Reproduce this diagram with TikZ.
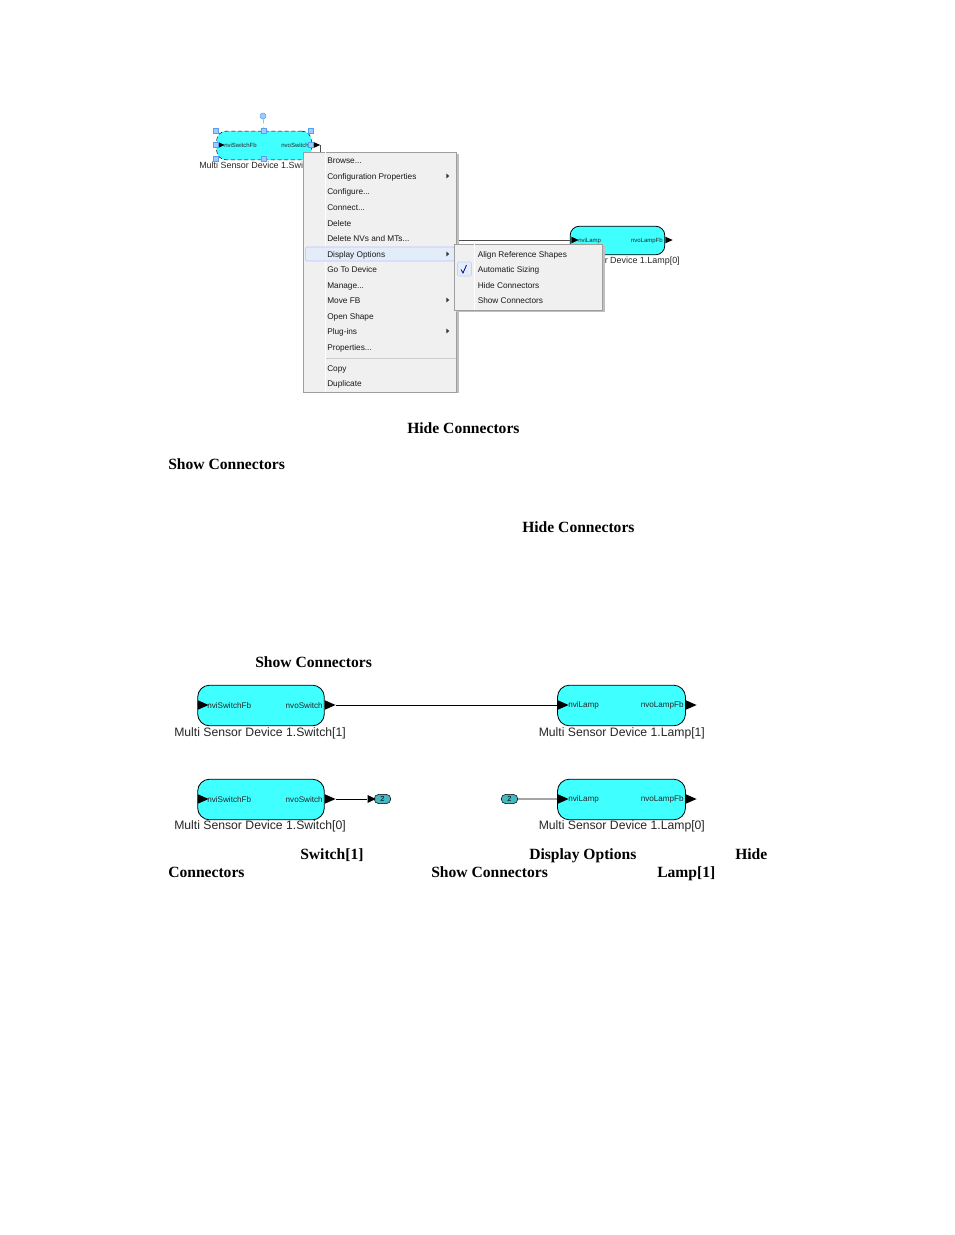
\documentclass[tikz,border=0pt]{standalone}
\usepackage{fontspec}
\setmainfont{Liberation Serif}
\newfontfamily\uifont{Liberation Sans}
\usepackage{xcolor}
\usetikzlibrary{positioning}
\usetikzlibrary{shapes.geometric, shapes.misc}
\definecolor{blockcyan}{rgb}{0.25, 1.0, 1.0}
\definecolor{refteal}{rgb}{0.27, 0.72, 0.76}
\definecolor{menugray}{rgb}{0.94, 0.94, 0.94}
\definecolor{menuedge}{rgb}{0.62, 0.62, 0.62}
\definecolor{hoverblue}{rgb}{0.89, 0.93, 0.98}
\definecolor{handleblue}{rgb}{0.62, 0.80, 1.0}
\definecolor{handleedge}{rgb}{0.35, 0.62, 0.95}
\tikzstyle{block} = [draw=black, fill=blockcyan, line width=0.6pt, rounded corners=9pt, inner sep=0pt]
\tikzstyle{topblock} = [block, rounded corners=7pt]
\tikzstyle{port} = [isosceles triangle, isosceles triangle stretches, fill=black, inner sep=0pt, minimum height=8pt, minimum width=7pt]
\tikzstyle{smallport} = [port, minimum height=5.5pt, minimum width=5pt]
\tikzstyle{nvtext} = [font=\uifont\fontsize{6.1}{8}\selectfont, inner sep=0pt, text=black!85]
\tikzstyle{smalltext} = [font=\uifont\fontsize{4.5}{6}\selectfont, inner sep=0pt, text=black!85]
\tikzstyle{devlabel} = [font=\uifont\fontsize{9.15}{11}\selectfont, inner sep=0pt, text=black!85]
\tikzstyle{toplabel} = [font=\uifont\fontsize{6.7}{8}\selectfont, inner sep=0pt, text=black!85]
\tikzstyle{item} = [font=\uifont\fontsize{6.2}{7}\selectfont, inner sep=0pt, anchor=base west, text=black!90]
\tikzstyle{more} = [isosceles triangle, isosceles triangle stretches, fill=black!80, inner sep=0pt, minimum height=2.2pt, minimum width=3.6pt]
\tikzstyle{bold} = [font=\bfseries\fontsize{11.7}{14}\selectfont, inner sep=0pt, anchor=base west]
\tikzstyle{refnode} = [rounded rectangle, draw=black, fill=refteal, inner sep=0pt, minimum width=12.5pt, minimum height=7pt, font=\uifont\fontsize{5.5}{6}\selectfont]
\tikzstyle{handle} = [rectangle, draw=handleedge, fill=handleblue, inner sep=0pt, minimum size=3.6pt]
\tikzstyle{wire} = [line width=0.7pt]
\begin{document}
\begin{tikzpicture}[x=0.75pt,y=-0.75pt]
\useasboundingbox (0,0) rectangle (954,1235);
% top block
\node (topsw) at (264,145.5) [topblock, minimum width=71pt, minimum height=21.5pt, line width=0.4pt, densely dashed] {};
\node (topswin) at (219.5,145) [smallport] {};
\node (topswout) at (315,145) [smallport] {};
\node (topswa) at (224,145.5) [smalltext, anchor=west] {nviSwitchFb};
\node (topswb) at (309,145.5) [smalltext, anchor=east] {nvoSwitch};
\node (topswl) at (199,166.3) [toplabel, anchor=west] {Multi Sensor Device 1.Switch[0]};
\node (h1) at (216,131) [handle] {};
\node (h2) at (264,131) [handle] {};
\node (h3) at (311,131) [handle] {};
\node (h4) at (216,145) [handle] {};
\node (h5) at (311,145) [handle] {};
\node (h6) at (216,159) [handle] {};
\node (h7) at (264,159) [handle] {};
\node (rot) at (263,116) [circle, draw=handleedge, fill=handleblue, inner sep=0pt, minimum size=4.5pt] {};
\draw[dashed, handleedge] (rot)--(h2);
% top lamp block
\node (toplp) at (617.5,240.5) [topblock, minimum width=71pt, minimum height=21.5pt] {};
\node (toplpin) at (573.5,240) [smallport] {};
\node (toplpout) at (667.5,240) [smallport] {};
\node (toplpa) at (578,240.5) [smalltext, anchor=west] {nviLamp};
\node (toplpb) at (663,240.5) [smalltext, anchor=east] {nvoLampFb};
\node (toplpl) at (680,261) [toplabel, anchor=east] {Multi Sensor Device 1.Lamp[0]};
\coordinate (bend1) at (320,145);
\coordinate (bend2) at (320,240);
\draw[black!70] (topswout.apex)--(bend1)--(bend2)--(toplpin.west);
\coordinate (greena) at (440,310.5);
\coordinate (greenb) at (506,310.5);
\draw[green!60!black, thick] (greena)--(greenb);
% context menu
\fill[black!25] (305,154) rectangle (459,393);
\node (menu) at (380,272) [draw=menuedge, fill=menugray, minimum width=115pt, minimum height=180pt, inner sep=0pt] {};
\coordinate (gutt) at (325,152);
\coordinate (guttb) at (325,392);
\draw[white] (gutt)--(guttb);
\node (hover) at (380,254) [draw=blue!25, fill=hoverblue, rounded corners=1pt, minimum width=112pt, minimum height=10.5pt, inner sep=0pt] {};
\coordinate (sepa) at (326,358);
\coordinate (sepb) at (456,358);
\draw[black!20] (sepa)--(sepb);
\node (m1) at (327,163.5) [item] {Browse...};
\node (m2) at (327,179) [item] {Configuration Properties};
\node (m3) at (327,194.5) [item] {Configure...};
\node (m4) at (327,210) [item] {Connect...};
\node (m5) at (327,226) [item] {Delete};
\node (m6) at (327,241) [item] {Delete NVs and MTs...};
\node (m7) at (327,257) [item] {Display Options};
\node (m8) at (327,272) [item] {Go To Device};
\node (m9) at (327,288) [item] {Manage...};
\node (m10) at (327,303) [item] {Move FB};
\node (m11) at (327,319) [item] {Open Shape};
\node (m12) at (327,334) [item] {Plug-ins};
\node (m13) at (327,350) [item] {Properties...};
\node (m14) at (327,371) [item] {Copy};
\node (m15) at (327,386) [item] {Duplicate};
\node (a1) at (447.5,176) [more] {};
\node (a2) at (447.5,254) [more] {};
\node (a3) at (447.5,300) [more] {};
\node (a4) at (447.5,331) [more] {};
% submenu
\fill[black!25] (456,246) rectangle (605,312);
\node (sub) at (528.5,277) [draw=menuedge, fill=menugray, minimum width=111pt, minimum height=49.5pt, inner sep=0pt] {};
\coordinate (subg) at (474,244);
\coordinate (subgb) at (474,310);
\draw[white] (subg)--(subgb);
\node (chk) at (464.5,269) [draw=blue!20, fill=hoverblue, rounded corners=1pt, minimum size=10.5pt, inner sep=0pt] {};
\coordinate (cka) at (461,269.5);
\coordinate (ckb) at (463,273);
\coordinate (ckc) at (466.5,265);
\draw[blue!60!black, semithick] (cka)--(ckb)--(ckc);
\node (s1) at (477.5,257) [item] {Align Reference Shapes};
\node (s2) at (477.5,272) [item] {Automatic Sizing};
\node (s3) at (477.5,288) [item] {Hide Connectors};
\node (s4) at (477.5,303) [item] {Show Connectors};
% text lines
\node (t1) at (407,433) [bold] {Hide Connectors};
\node (t2) at (168,469) [bold] {Show Connectors};
\node (t3) at (522,532) [bold] {Hide Connectors};
\node (t4) at (255,667) [bold] {Show Connectors};
% lower blocks
\node (sw1) at (261,705.5) [block, minimum width=95pt, minimum height=30.5pt] {};
\node (lp1) at (621.5,705.5) [block, minimum width=96pt, minimum height=30.5pt] {};
\node (sw0) at (261,799.5) [block, minimum width=95pt, minimum height=30.5pt] {};
\node (lp0) at (621.5,799.5) [block, minimum width=96pt, minimum height=30.5pt] {};
\node (sw1in) at (201,705) [port] {};
\node (sw1out) at (328,705) [port] {};
\node (lp1in) at (561,705) [port] {};
\node (lp1out) at (689,705) [port] {};
\node (sw0in) at (201,799) [port] {};
\node (sw0out) at (328,799) [port] {};
\node (lp0in) at (561,799) [port] {};
\node (lp0out) at (689,799) [port] {};
\node (sw1a) at (207,705.5) [nvtext, anchor=west] {nviSwitchFb};
\node (sw1b) at (323,705.5) [nvtext, anchor=east] {nvoSwitch};
\node (lp1a) at (568,705.5) [nvtext, anchor=west] {nviLamp};
\node (lp1b) at (684,705.5) [nvtext, anchor=east] {nvoLampFb};
\node (sw0a) at (207,799.5) [nvtext, anchor=west] {nviSwitchFb};
\node (sw0b) at (323,799.5) [nvtext, anchor=east] {nvoSwitch};
\node (lp0a) at (568,799.5) [nvtext, anchor=west] {nviLamp};
\node (lp0b) at (684,799.5) [nvtext, anchor=east] {nvoLampFb};
\node (sw1l) at (174,733.3) [devlabel, anchor=west] {Multi Sensor Device 1.Switch[1]};
\node (lp1l) at (538.5,733.3) [devlabel, anchor=west] {Multi Sensor Device 1.Lamp[1]};
\node (sw0l) at (174,826.3) [devlabel, anchor=west] {Multi Sensor Device 1.Switch[0]};
\node (lp0l) at (538.5,826.3) [devlabel, anchor=west] {Multi Sensor Device 1.Lamp[0]};
\node (ref0) at (382.5,799) [refnode] {2};
\node (ref1) at (509.5,799) [refnode] {2};
\node (reftip) at (370,799) [port, minimum height=6pt, minimum width=6pt] {};
\draw[wire] (sw1out.apex)--(lp1in.west);
\draw[wire] (sw0out.apex)--(reftip.west);
\draw[wire] (ref1)--(lp0in.west);
% caption
\node (c1) at (300,859) [bold] {Switch[1]};
\node (c2) at (529,859) [bold] {Display Options};
\node (c3) at (735,859) [bold] {Hide};
\node (c4) at (168,877) [bold] {Connectors};
\node (c5) at (431,877) [bold] {Show Connectors};
\node (c6) at (657,877) [bold] {Lamp[1]};
\end{tikzpicture}
\end{document}
